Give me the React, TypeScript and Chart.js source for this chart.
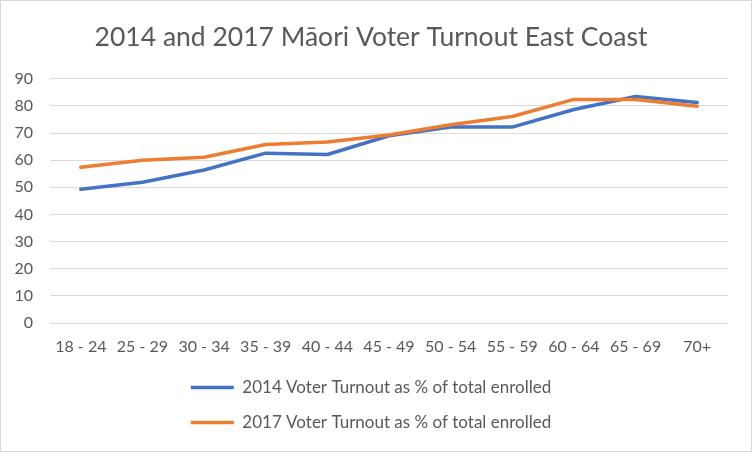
import { useEffect, useRef } from "react"
import { Chart, registerables } from "chart.js"

Chart.register(...registerables)

const ageGroups = ["18 - 24", "25 - 29", "30 - 34", "35 - 39", "40 - 44", "45 - 49", "50 - 54", "55 - 59", "60 - 64", "65 - 69", "70+"]
const turnout2014 = [49.3, 51.9, 56.4, 62.6, 62.1, 69.0, 72.2, 72.2, 78.7, 83.5, 81.3]
const turnout2017 = [57.4, 60.0, 61.1, 65.8, 66.7, 69.3, 73.1, 76.1, 82.4, 82.4, 79.9]
const seriesLabels = ["2014 Voter Turnout as % of total enrolled", "2017 Voter Turnout as % of total enrolled"]
const chartTitle = "2014 and 2017 Māori Voter Turnout East Coast"

const textColor = "#595959"
const gridColor = "#d9d9d9"
const fontFamily = "Lato, 'Open Sans', sans-serif"

export default function App() {
  const chartRef = useRef<HTMLCanvasElement>(null)
  const chartInstance = useRef<Chart | null>(null)

  useEffect(() => {
    if (!chartRef.current) return
    if (chartInstance.current) chartInstance.current.destroy()

    const ctx = chartRef.current.getContext("2d")
    if (!ctx) return

    chartInstance.current = new Chart(ctx, {
      type: "line",
      data: {
        labels: ageGroups,
        datasets: [
          {
            label: seriesLabels[0],
            data: turnout2014,
            borderColor: "#4472C4",
            backgroundColor: "#4472C4",
            borderWidth: 3.5,
            pointRadius: 0,
            borderCapStyle: "round",
            borderJoinStyle: "round",
            order: 1,
          },
          {
            label: seriesLabels[1],
            data: turnout2017,
            borderColor: "#ED7D31",
            backgroundColor: "#ED7D31",
            borderWidth: 3.5,
            pointRadius: 0,
            borderCapStyle: "round",
            borderJoinStyle: "round",
            order: 0,
          },
        ],
      },
      options: {
        responsive: true,
        maintainAspectRatio: false,
        animation: false,
        layout: {
          padding: { left: 13, right: 23, top: 0, bottom: 10 },
        },
        scales: {
          x: {
            offset: true,
            grid: { display: false, drawTicks: false },
            border: { display: false },
            afterFit: (scale) => {
              scale.height = 38
            },
            ticks: {
              color: textColor,
              font: { family: fontFamily, size: 16 },
              padding: 14,
              maxRotation: 0,
              autoSkip: false,
            },
          },
          y: {
            min: 0,
            max: 90,
            grid: { color: gridColor, lineWidth: 1, drawTicks: false },
            border: { display: false },
            afterFit: (scale) => {
              // labels end 17px left of the plot, without the doubled tick padding
              scale.width = 36
            },
            ticks: {
              stepSize: 10,
              color: textColor,
              font: { family: fontFamily, size: 16 },
              padding: 17,
            },
          },
        },
        plugins: {
          title: {
            display: true,
            text: chartTitle,
            color: textColor,
            font: { family: fontFamily, size: 26.5, weight: "normal" },
            padding: { top: 21, bottom: 25 },
          },
          legend: {
            position: "bottom",
            labels: {
              usePointStyle: true,
              pointStyle: "line",
              pointStyleWidth: 43,
              padding: 18,
              color: textColor,
              font: { family: fontFamily, size: 17 },
              sort: (a, b) => (a.datasetIndex ?? 0) - (b.datasetIndex ?? 0),
            },
          },
          tooltip: { enabled: false },
        },
      },
    })

    return () => {
      if (chartInstance.current) {
        chartInstance.current.destroy()
        chartInstance.current = null
      }
    }
  }, [])

  return (
    <div
      style={{
        position: "absolute",
        left: 0,
        top: 0,
        width: 752,
        height: 452,
        boxSizing: "border-box",
        border: `1px solid ${gridColor}`,
        background: "#fff",
      }}
    >
      <canvas ref={chartRef} />
    </div>
  )
}
